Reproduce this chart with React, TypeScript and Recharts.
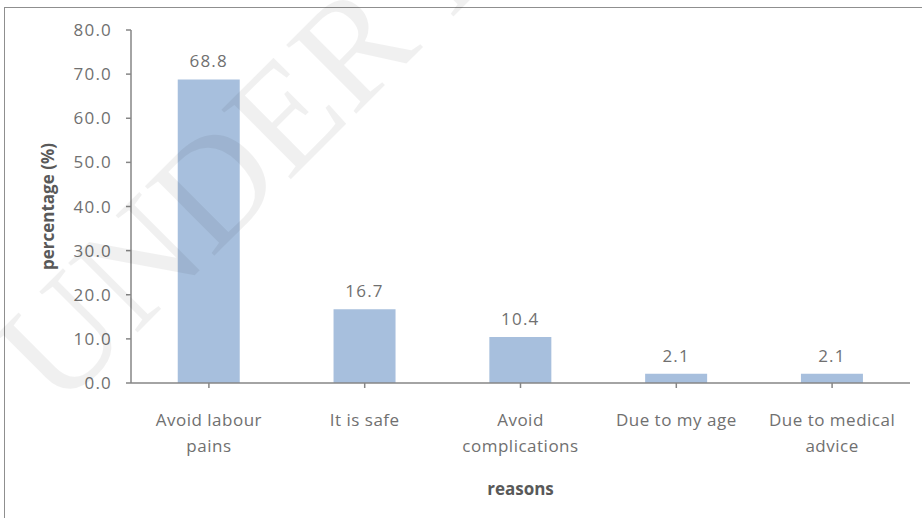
import React from "react";
import { BarChart, Bar, XAxis, YAxis, LabelList, Label } from "recharts";

const categoryLines: string[][] = [
  ["Avoid labour", "pains"],
  ["It is safe"],
  ["Avoid", "complications"],
  ["Due to my age"],
  ["Due to medical", "advice"],
];
const categories = categoryLines.map((l) => l.join(" "));
const percentages = [68.8, 16.7, 10.4, 2.1, 2.1];
const yTicks = [0, 10, 20, 30, 40, 50, 60, 70, 80];
const xTitle = "reasons";
const yTitle = "percentage (%)";
const watermark = "UNDER PEER REVIEW";

const data = categories.map((c, i) => ({ name: c, value: percentages[i] }));

const FONT = "'Open Sans', sans-serif";
const TEXT = "#707070";

const CatTick = (props: any) => {
  const { x, y, payload } = props;
  const idx = categories.indexOf(payload.value);
  const lines = idx >= 0 ? categoryLines[idx] : [String(payload.value)];
  return (
    <text x={x} y={y} textAnchor="middle" fill={TEXT} fontSize={17} letterSpacing={0.5} fontFamily={FONT}>
      {lines.map((ln, i) => (
        <tspan key={i} x={x} dy={i === 0 ? 38 : 26}>
          {ln}
        </tspan>
      ))}
    </text>
  );
};

export default function App() {
  return (
    <div style={{ position: "fixed", left: 0, top: 0, width: 922, height: 518, overflow: "hidden", background: "#fff" }}>
      <div
        style={{
          position: "absolute",
          left: 4,
          top: 7,
          width: 940,
          height: 540,
          border: "1.5px solid #8f8f8f",
          boxSizing: "border-box",
        }}
      />
      <div style={{ position: "absolute", left: 0, top: 0 }}>
        <BarChart
          width={922}
          height={518}
          data={data}
          margin={{ top: 30, right: 12, bottom: 35, left: 71 }}
          barCategoryGap="30%"
        >
          <XAxis
            dataKey="name"
            height={100}
            tick={<CatTick />}
            tickSize={5}
            tickMargin={0}
            interval={0}
            axisLine={{ stroke: "#868686", strokeWidth: 1.5 }}
            tickLine={{ stroke: "#868686", strokeWidth: 1.5 }}
          >
            <Label
              content={(p: any) => {
                const vb = p.viewBox;
                return (
                  <text
                    x={vb.x + vb.width / 2}
                    y={vb.y + 105}
                    textAnchor="middle"
                    dominantBaseline="central"
                    fill="#595959"
                    fontWeight="bold"
                    fontSize={17}
                    fontFamily={FONT}
                  >
                    {xTitle}
                  </text>
                );
              }}
            />
          </XAxis>
          <YAxis
            width={60}
            domain={[0, 80]}
            ticks={yTicks}
            interval={0}
            tickFormatter={(v: number) => v.toFixed(1)}
            tick={{ fill: TEXT, fontSize: 17, fontFamily: FONT, letterSpacing: 1.2 }}
            tickSize={5}
            tickMargin={14}
            axisLine={{ stroke: "#868686", strokeWidth: 1.5 }}
            tickLine={{ stroke: "#868686", strokeWidth: 1.5 }}
          >
            <Label
              content={(p: any) => {
                const vb = p.viewBox;
                const cx = vb.x - 24;
                const cy = vb.y + vb.height / 2;
                return (
                  <text
                    x={cx}
                    y={cy}
                    transform={`rotate(-90 ${cx} ${cy})`}
                    textAnchor="middle"
                    dominantBaseline="central"
                    fill="#595959"
                    fontWeight="bold"
                    fontSize={17}
                    fontFamily={FONT}
                  >
                    {yTitle}
                  </text>
                );
              }}
            />
          </YAxis>
          <Bar dataKey="value" fill="#A7BFDD" isAnimationActive={false}>
            <LabelList
              dataKey="value"
              position="top"
              offset={12}
              formatter={(v: any) => Number(v).toFixed(1)}
              fill={TEXT}
              fontSize={17}
              letterSpacing={1.2}
              fontFamily={FONT}
            />
          </Bar>
        </BarChart>
      </div>
      <svg width={922} height={518} style={{ position: "absolute", left: 0, top: 0, pointerEvents: "none" }}>
        <text
          x={58}
          y={412}
          transform="rotate(-45 58 412)"
          fontFamily="'Liberation Serif', serif"
          fontSize={150}
          fill="rgba(0,0,0,0.06)"
        >
          {watermark}
        </text>
      </svg>
    </div>
  );
}
